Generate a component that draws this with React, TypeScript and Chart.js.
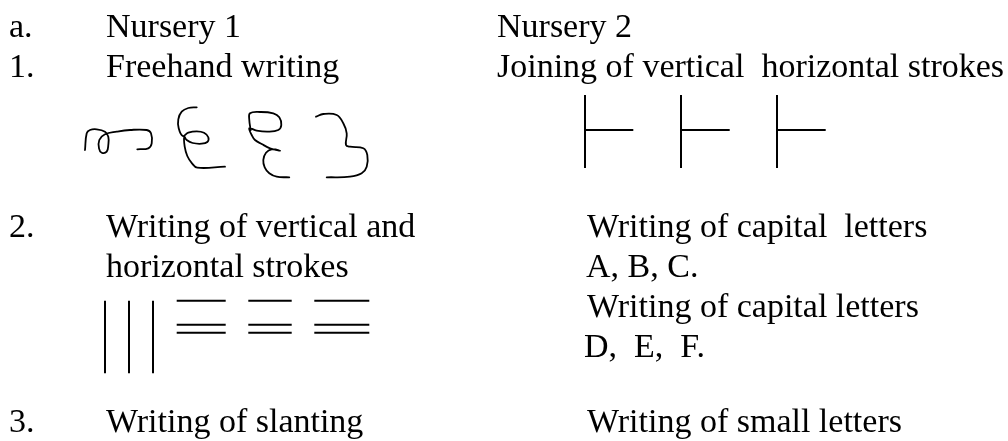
import React, { useEffect, useRef } from "react";
import { Chart, registerables } from "chart.js";

Chart.register(...registerables);

// ---- content (page pixel units) ----
const itemNumbers = ["a.", "1.", "2.", "3."];
const itemBaselines = [37, 77, 237, 432];

const leftTexts = [
  "Nursery 1",
  "Freehand writing",
  "Writing of vertical and",
  "horizontal strokes",
  "Writing of slanting",
];
const leftBaselines = [37, 77, 237, 277, 432];

const rightTexts = [
  "Nursery 2",
  "Joining of vertical  horizontal strokes",
  "Writing of capital  letters",
  "A, B, C.",
  "Writing of capital letters",
  "D,  E,  F.",
  "Writing of small letters",
];
const rightBaselines = [37, 77, 237, 277, 317, 357, 432];
const rightStarts = [497, 497, 587, 586, 587, 584, 587];

// freehand strokes (x, y)
const strokeM: number[][] = [
  [85, 150], [86.7, 133.3], [90, 130], [96.7, 129.3], [105, 131.7], [108.3, 136.7],
  [108.3, 145], [106.7, 151.7], [101.7, 152.7], [99, 148.3], [99.3, 140], [105, 134.3],
  [116.7, 131.7], [130, 130], [146.7, 130], [151, 133.3], [151.7, 143.3], [148.3, 148.3],
  [137.3, 149.3],
];
const strokeE: number[][] = [
  [196.7, 107.3], [188.3, 108], [181.7, 111.7], [178.3, 119.3], [178.7, 128.3], [182.7, 136],
  [188.3, 132.7], [196.7, 131.3], [204, 132.7], [208.3, 137.3], [207.3, 142], [201.7, 143.7],
  [192.7, 143], [186.7, 140], [184.3, 136.7], [184.7, 146.7], [187.3, 156], [192, 163.3],
  [197.3, 167.7], [225, 166.7],
];
const strokeAin: number[][] = [
  [250.7, 130], [249.3, 120], [250, 113.3], [260, 112], [273.3, 113.3], [279.3, 117.3],
  [281.3, 125], [278.3, 130], [268.3, 131.7], [256.7, 130.7], [249.3, 128.3], [251.7, 135],
  [255, 140], [261.7, 144], [270, 148.3], [280, 150.7], [271.7, 149.3], [266, 152.7],
  [263.3, 160], [264.7, 167.3], [269.3, 173.3], [276.7, 176.7], [289.3, 177.3],
];
const stroke3: number[][] = [
  [316, 116.7], [323.3, 114], [336.7, 115], [343.3, 123.3], [346.7, 133.3], [346, 145],
  [350, 146.7], [363.3, 148.3], [367.3, 155], [366.7, 166.7], [361.7, 173.3], [350, 176.7],
  [326.7, 177.3],
];

// joined strokes (Nursery 2)
const joinStemX = [585, 681, 777];
const joinStemTop = 95;
const joinStemBottom = 168;
const joinArmY = 130;
const joinArmEndX = [633.3, 729.7, 825.7];

// vertical strokes
const vertStrokeX = [105, 129, 153];
const vertStrokeTop = 300.7;
const vertStrokeBottom = 373.3;

// horizontal stroke groups
const horizGroupStart = [176.7, 248.3, 314.3];
const horizGroupEnd = [225.7, 291.7, 369.3];
const horizLineY = [300.7, 324.7, 332.7];

const PAGE_W = 1008;
const PAGE_H = 441;
const FONT = '34px "Liberation Serif", "Times New Roman", serif';
const TEXT_X_NUM = 9;
const TEXT_X_LEFT = 106;

function seg(a: number[], b: number[]) {
  return [
    { x: a[0], y: a[1] },
    { x: b[0], y: b[1] },
  ];
}

export default function App() {
  const ref = useRef<HTMLCanvasElement | null>(null);

  useEffect(() => {
    if (!ref.current) return;
    const datasets: any[] = [];
    const base = {
      showLine: true,
      pointRadius: 0,
      pointHoverRadius: 0,
      borderColor: "#000000",
      backgroundColor: "#000000",
      fill: false,
    };
    [strokeM, strokeE, strokeAin, stroke3].forEach((s) => {
      datasets.push({
        ...base,
        borderWidth: 1.8,
        tension: 0.4,
        borderCapStyle: "round",
        borderJoinStyle: "round",
        data: s.map((p) => ({ x: p[0], y: p[1] })),
      });
    });
    joinStemX.forEach((x, i) => {
      datasets.push({ ...base, borderWidth: 2, tension: 0, data: seg([x, joinStemTop], [x, joinStemBottom]) });
      datasets.push({ ...base, borderWidth: 2, tension: 0, data: seg([x, joinArmY], [joinArmEndX[i], joinArmY]) });
    });
    vertStrokeX.forEach((x) => {
      datasets.push({ ...base, borderWidth: 2, tension: 0, data: seg([x, vertStrokeTop], [x, vertStrokeBottom]) });
    });
    horizGroupStart.forEach((x0, i) => {
      horizLineY.forEach((y) => {
        datasets.push({ ...base, borderWidth: 2, tension: 0, data: seg([x0, y], [horizGroupEnd[i], y]) });
      });
    });

    const textPlugin = {
      id: "docText",
      afterDatasetsDraw(chart: any) {
        const { ctx, scales } = chart;
        const xs = scales.x;
        const ys = scales.y;
        ctx.save();
        ctx.font = FONT;
        ctx.fillStyle = "#000000";
        ctx.textBaseline = "alphabetic";
        ctx.textAlign = "left";
        itemNumbers.forEach((t, i) => {
          ctx.fillText(t, xs.getPixelForValue(TEXT_X_NUM), ys.getPixelForValue(itemBaselines[i]));
        });
        leftTexts.forEach((t, i) => {
          ctx.fillText(t, xs.getPixelForValue(TEXT_X_LEFT), ys.getPixelForValue(leftBaselines[i]));
        });
        rightTexts.forEach((t, i) => {
          ctx.fillText(t, xs.getPixelForValue(rightStarts[i]), ys.getPixelForValue(rightBaselines[i]));
        });
        ctx.restore();
      },
    };

    const chart = new Chart(ref.current, {
      type: "scatter",
      data: { datasets },
      options: {
        animation: false,
        responsive: false,
        devicePixelRatio: 1,
        layout: { padding: 0 },
        plugins: { legend: { display: false }, tooltip: { enabled: false } },
        events: [],
        scales: {
          x: { type: "linear", min: 0, max: PAGE_W, display: false },
          y: { type: "linear", min: 0, max: PAGE_H, reverse: true, display: false },
        },
      },
      plugins: [textPlugin],
    });
    return () => chart.destroy();
  }, []);

  return (
    <div style={{ position: "fixed", left: 0, top: 0, width: PAGE_W, height: PAGE_H, background: "#ffffff" }}>
      <canvas ref={ref} width={PAGE_W} height={PAGE_H} style={{ display: "block" }} />
    </div>
  );
}
